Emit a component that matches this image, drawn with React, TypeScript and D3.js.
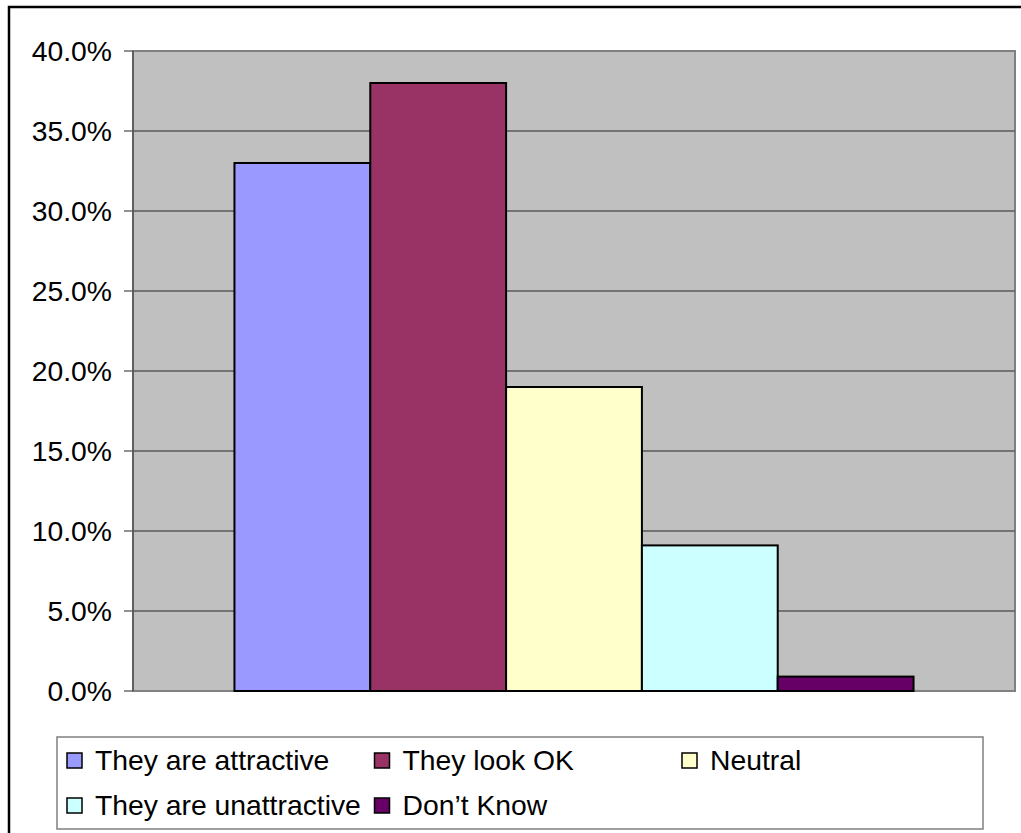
import * as d3 from 'd3';

const seriesNames = ['They are attractive', 'They look OK', 'Neutral', 'They are unattractive', 'Don\u2019t Know'];
const seriesValues = [0.33, 0.38, 0.19, 0.091, 0.009];
const seriesColors = ['#9999FF', '#993366', '#FFFFCC', '#CCFFFF', '#660066'];
const yTicks = [0, 0.05, 0.1, 0.15, 0.2, 0.25, 0.3, 0.35, 0.4];

const W = 1021;
const H = 833;
const plot = { left: 133, right: 1015, top: 51, bottom: 691 };
const font = '"Liberation Sans", Arial, sans-serif';

export default function App() {
  const y = d3.scaleLinear().domain([0, 0.4]).range([plot.bottom, plot.top]);
  const x = d3.scaleBand<string>()
    .domain(seriesNames)
    .range([plot.left, plot.right])
    .paddingInner(0)
    .paddingOuter(0.747);
  const fmt = d3.format('.1%');

  // legend grid
  const legendBox = { x: 57, y: 737, w: 926, h: 92 };
  const colX = d3.scaleLinear().domain([0, 1]).range([67, 374.5]);
  const rowY = [753, 798];

  return (
    <svg
      width={W}
      height={H}
      style={{ position: 'absolute', left: 0, top: 0, display: 'block', background: '#fff' }}
      fontFamily={font}
    >
      {/* outer chart border */}
      <rect x={9} y={7} width={W + 20} height={H + 20} fill="#fff" stroke="#000" strokeWidth={2.5} />

      {/* plot area */}
      <rect
        x={plot.left}
        y={plot.top}
        width={plot.right - plot.left}
        height={plot.bottom - plot.top}
        fill="#C0C0C0"
        stroke="#808080"
        strokeWidth={2}
      />

      {/* gridlines */}
      {yTicks.slice(1, -1).map((t) => (
        <line key={t} x1={plot.left} x2={plot.right} y1={y(t)} y2={y(t)} stroke="#5a5a5a" strokeWidth={1.3} />
      ))}

      {/* bars */}
      {seriesNames.map((name, i) => (
        <rect
          key={name}
          x={x(name)}
          y={y(seriesValues[i])}
          width={x.bandwidth()}
          height={plot.bottom - y(seriesValues[i])}
          fill={seriesColors[i]}
          stroke="#000"
          strokeWidth={2}
        />
      ))}

      {/* y axis */}
      <line x1={plot.left} x2={plot.left} y1={plot.top} y2={plot.bottom} stroke="#555" strokeWidth={1.5} />
      {yTicks.map((t) => (
        <g key={t}>
          <line x1={124} x2={plot.left} y1={y(t)} y2={y(t)} stroke="#555" strokeWidth={1.3} />
          <text x={112} y={y(t)} dy="0.35em" textAnchor="end" fontSize={28.3} fill="#000">
            {fmt(t)}
          </text>
        </g>
      ))}

      {/* legend */}
      <rect
        x={legendBox.x}
        y={legendBox.y}
        width={legendBox.w}
        height={legendBox.h}
        fill="#fff"
        stroke="#808080"
        strokeWidth={1.5}
      />
      {seriesNames.map((name, i) => {
        const cx = colX(i % 3);
        const cy = rowY[Math.floor(i / 3)];
        return (
          <g key={name}>
            <rect x={cx} y={cy} width={15} height={15} fill={seriesColors[i]} stroke="#000" strokeWidth={1.5} />
            <text x={cx + 28} y={cy + 17} fontSize={28.3} fill="#000">
              {name}
            </text>
          </g>
        );
      })}
    </svg>
  );
}
